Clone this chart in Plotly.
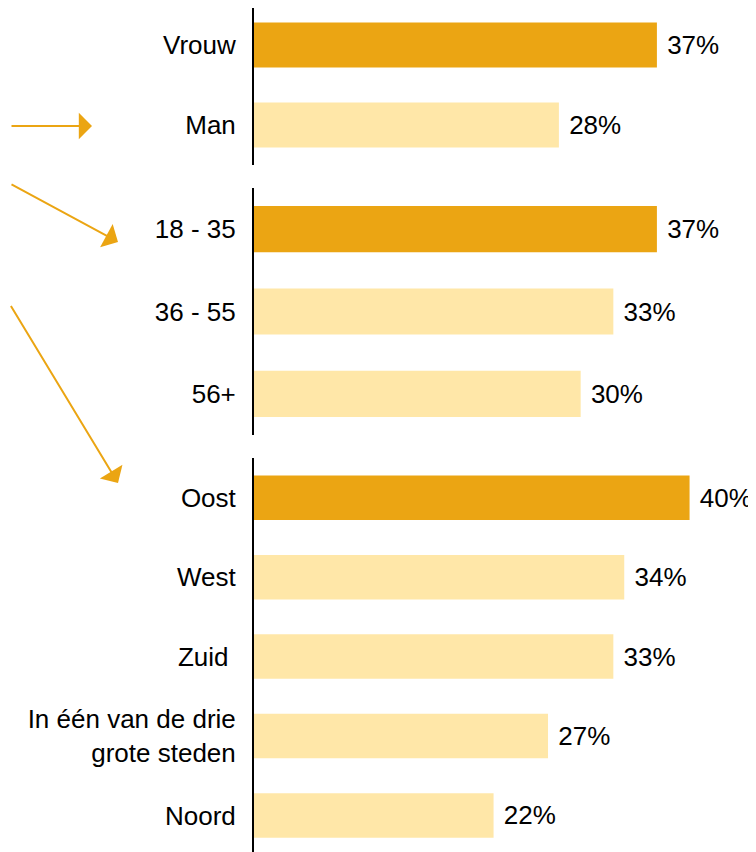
import plotly.graph_objects as go

# ---- data ----
gender_labels = ["Vrouw", "Man"]
gender_values = [37, 28]
age_labels = ["18 - 35", "36 - 55", "56+"]
age_values = [37, 33, 30]
region_labels = ["Oost", "West", "Zuid\u00a0", "In één van de drie<br>grote steden", "Noord"]
region_values = [40, 34, 33, 27, 22]

DARK = "#EBA513"
LIGHT = "#FFE7A8"
OFF = 8                      # page body margin of the html page
W, H = 756 - OFF, 852 - OFF  # figure size so that it fills the window
FONT = dict(family="Arial, Liberation Sans, sans-serif", size=26, color="#000000")


def px_x(px):
    return (px - OFF) / W


def px_y(px):
    return min(1.0, max(0.0, 1 - (px - OFF) / H))


panels = [
    (gender_labels, gender_values, (165, 8), [1.5, -0.4625]),
    (age_labels, age_values, (435, 188), [2.5, -0.5]),
    (region_labels, region_values, (852, 458), [4.46, -0.5]),
]

fig = go.Figure()
for i, (labels, values, (bot, top), rng) in enumerate(panels, start=1):
    suffix = "" if i == 1 else str(i)
    colors = [DARK] + [LIGHT] * (len(values) - 1)
    fig.add_trace(go.Bar(
        x=values, y=labels, orientation="h",
        marker=dict(color=colors, line=dict(width=0)),
        texttemplate="\u00a0%{x}%", textposition="outside",
        textfont=FONT, cliponaxis=False,
        xaxis="x" + suffix, yaxis="y" + suffix,
        showlegend=False, hoverinfo="skip",
    ))
    fig.layout["xaxis" + suffix] = dict(
        domain=[px_x(254), 1], range=[0, 46.1], visible=False, fixedrange=True,
        anchor="y" + suffix,
    )
    fig.layout["yaxis" + suffix] = dict(
        domain=[px_y(bot), px_y(top)], type="category", range=rng,
        anchor="x" + suffix, showline=True, linecolor="#000000", linewidth=2,
        showgrid=False, zeroline=False, ticks="outside", ticklen=11,
        tickcolor="rgba(0,0,0,0)", tickfont=FONT, fixedrange=True,
    )

# arrows: head (window px) and tail (window px) on the left page edge
arrows = [((92, 126), (10, 126)), ((118, 242), (10, 183.5)), ((118, 483), (10, 304.5))]
for (hx, hy), (tx, ty) in arrows:
    fig.add_annotation(
        x=px_x(hx), y=px_y(hy), xref="paper", yref="paper",
        ax=tx - hx, ay=ty - hy, axref="pixel", ayref="pixel",
        showarrow=True, arrowhead=1, arrowsize=2.2, arrowwidth=2,
        arrowcolor=DARK, text="",
    )

fig.update_layout(
    width=W, height=H, margin=dict(l=0, r=0, t=0, b=0),
    paper_bgcolor="white", plot_bgcolor="white",
    bargap=0.44, font=FONT,
)

fig.write_html("out.html")
